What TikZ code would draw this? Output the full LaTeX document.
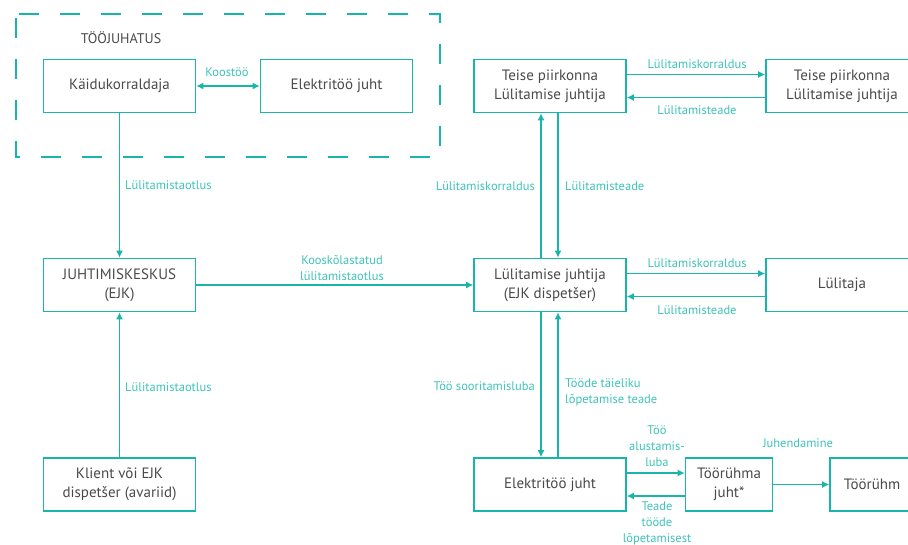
\documentclass[tikz,border=0pt]{standalone}
\usepackage{fontspec}
\setmainfont{PT Sans}
\usetikzlibrary{arrows.meta}
\definecolor{teal1}{HTML}{17B5AA}
\definecolor{lbl}{HTML}{3EC3B8}
\definecolor{txt}{HTML}{4A4A4A}
\begin{document}
\begin{tikzpicture}[x=1pt,y=-1pt,
 box/.style={draw=teal1,line width=1.6pt,fill=white,text=txt,align=center,inner sep=0pt,
   minimum width=152pt,minimum height=53pt,font=\fontsize{15}{19}\selectfont},
 lab/.style={text=lbl,font=\fontsize{12.5}{16}\selectfont,align=center,inner sep=1pt},
 arr/.style={draw=teal1,line width=1.6pt,-{Latex[length=7pt,width=7pt]}},
 darr/.style={draw=teal1,line width=1.6pt,{Latex[length=7pt,width=7pt]}-{Latex[length=7pt,width=7pt]}}]
\useasboundingbox (0,0) rectangle (908,544);
\clip (0,0) rectangle (908,544);
% dashed group
\draw[teal1,line width=1.6pt,dash pattern=on 20pt off 21pt,dash phase=-4pt] (16,14) rectangle (440,157);
\node[text=txt,font=\fontsize{14}{16}\selectfont] (tj0) at (121,38) {TÖÖJUHATUS};
% boxes
\node[box] (kk) at (119.5,86) {Käidukorraldaja};
\node[box] (et1) at (336.5,86) {Elektritöö juht};
\node[box] (tp1) at (550,86) {Teise piirkonna\\Lülitamise juhtija};
\node[box] (tp2) at (842,86) {Teise piirkonna\\Lülitamise juhtija};
\node[box] (jk) at (119.5,285) {JUHTIMISKESKUS\\(EJK)};
\node[box] (lj) at (550,285) {Lülitamise juhtija\\(EJK dispetšer)};
\node[box] (lt) at (842,285) {Lülitaja};
\node[box] (kl) at (119.5,484.5) {Klient või EJK\\dispetšer (avariid)};
\node[box] (et2) at (550,484.5) {Elektritöö juht};
\node[box,minimum width=87pt] (tj) at (729,484.5) {Töörühma\\juht*};
\node[box,minimum width=84pt] (tr) at (872,484.5) {Töörühm};
% connectors
\draw[darr] (kk.east) -- (et1.west);
\node[lab] (l1) at (227,72) {Koostöö};
\draw[arr] (kk.south) -- (jk.north);
\node[lab,anchor=west] (l2) at (124,185) {Lülitamistaotlus};
\draw[arr] (kl.north) -- (jk.south);
\node[lab,anchor=west] (l3) at (124,387) {Lülitamistaotlus};
\draw[arr] (jk.east) -- (lj.west);
\node[lab] (l4) at (342,268) {Kooskõlastatud\\lülitamistaotlus};
\draw[arr] ([yshift=11.5pt]tp1.east) -- ([yshift=11.5pt]tp2.west);
\draw[arr] ([yshift=-11.5pt]tp2.west) -- ([yshift=-11.5pt]tp1.east);
\node[lab] (l5) at (697,64) {Lülitamiskorraldus};
\node[lab] (l6) at (697,110) {Lülitamisteade};
\draw[arr] ([yshift=11.5pt]lj.east) -- ([yshift=11.5pt]lt.west);
\draw[arr] ([yshift=-11.5pt]lt.west) -- ([yshift=-11.5pt]lj.east);
\node[lab] (l7) at (697,263) {Lülitamiskorraldus};
\node[lab] (l8) at (697,310) {Lülitamisteade};
\draw[arr] ([xshift=-9pt]lj.north) -- ([xshift=-9pt]tp1.south);
\draw[arr] ([xshift=8pt]tp1.south) -- ([xshift=8pt]lj.north);
\node[lab,anchor=east] (l9) at (536,186) {Lülitamiskorraldus};
\node[lab,anchor=west] (l10) at (564,186) {Lülitamisteade};
\draw[arr] ([xshift=-9pt]lj.south) -- ([xshift=-9pt]et2.north);
\draw[arr] ([xshift=8pt]et2.north) -- ([xshift=8pt]lj.south);
\node[lab,anchor=east] (l11) at (536,386) {Töö sooritamisluba};
\node[lab,anchor=west,align=left] (l12) at (564,392) {Tööde täieliku\\lõpetamise teade};
\draw[arr] ([yshift=11.5pt]et2.east) -- ([yshift=11.5pt]tj.west);
\draw[arr] ([yshift=-11.5pt]tj.west) -- ([yshift=-11.5pt]et2.east);
\node[lab] (l13) at (657,446) {Töö\\alustamis-\\luba};
\node[lab] (l14) at (657,523) {Teade\\tööde\\lõpetamisest};
\draw[arr] (tj.east) -- (tr.west);
\node[lab] (l15) at (798,443) {Juhendamine};
\end{tikzpicture}
\end{document}
